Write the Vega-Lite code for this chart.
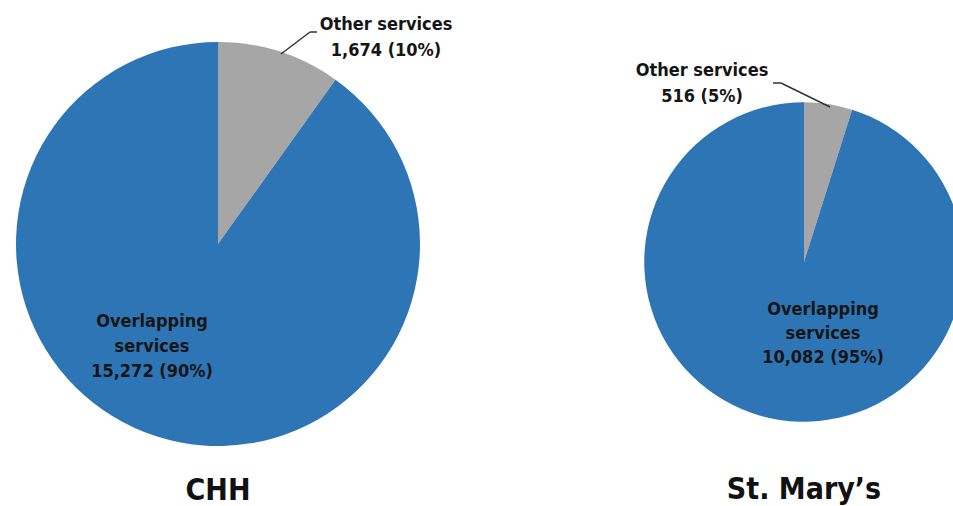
{
  "$schema": "https://vega.github.io/schema/vega-lite/v6.json",
  "width": 953,
  "height": 506,
  "autosize": {"type": "fit", "contains": "padding"},
  "padding": 0,
  "background": "white",
  "config": {"view": {"stroke": null}, "text": {"font": "Liberation Sans Narrow, Arial Narrow, DejaVu Sans Condensed, sans-serif"}},
  "data": {
    "values": [
      {"hospital": "CHH", "service": "Other services", "value": 1674, "label": "Other services\n1,674 (10%)"},
      {"hospital": "CHH", "service": "Overlapping services", "value": 15272, "label": "Overlapping\nservices\n15,272 (90%)"},
      {"hospital": "St. Mary’s", "service": "Other services", "value": 516, "label": "Other services\n516 (5%)"},
      {"hospital": "St. Mary’s", "service": "Overlapping services", "value": 10082, "label": "Overlapping\nservices\n10,082 (95%)"}
    ]
  },
  "transform": [
    {"joinaggregate": [{"op": "sum", "field": "value", "as": "total"}], "groupby": ["hospital"]},
    {"stack": "value", "groupby": ["hospital"], "offset": "normalize", "sort": [{"field": "service", "order": "ascending"}], "as": ["v0", "v1"]}
  ],
  "encoding": {
    "x": {"field": "hospital", "type": "nominal", "axis": null, "scale": {"type": "point", "domain": ["CHH", "St. Mary’s"], "range": [218, 804], "padding": 0}},
    "y": {"field": "hospital", "type": "nominal", "axis": null, "scale": {"type": "point", "domain": ["CHH", "St. Mary’s"], "range": [244, 262], "padding": 0}}
  },
  "layer": [
    {
      "mark": {"type": "arc", "stroke": null},
      "encoding": {
        "theta": {"field": "v0", "type": "quantitative", "scale": {"domain": [0, 1]}},
        "theta2": {"field": "v1"},
        "radius": {"field": "total", "type": "quantitative", "scale": {"type": "sqrt", "zero": true, "range": [0, 202]}, "legend": null},
        "color": {"field": "service", "type": "nominal", "legend": null, "scale": {"domain": ["Other services", "Overlapping services"], "range": ["#A6A6A6", "#2E75B6"]}}
      }
    },
    {
      "transform": [{"filter": "datum.hospital === 'CHH' && datum.service === 'Other services'"}],
      "mark": {"type": "rule", "color": "#333333", "strokeWidth": 1.5, "xOffset": 63, "yOffset": -190, "x2Offset": 92, "y2Offset": -212},
      "encoding": {"x2": {"field": "hospital"}, "y2": {"field": "hospital"}}
    },
    {
      "transform": [{"filter": "datum.hospital === 'CHH' && datum.service === 'Other services'"}],
      "mark": {"type": "rule", "color": "#333333", "strokeWidth": 1.5, "xOffset": 92, "yOffset": -212, "x2Offset": 99, "y2Offset": -212},
      "encoding": {"x2": {"field": "hospital"}, "y2": {"field": "hospital"}}
    },
    {
      "transform": [{"filter": "datum.hospital === 'St. Mary’s' && datum.service === 'Other services'"}],
      "mark": {"type": "rule", "color": "#333333", "strokeWidth": 1.5, "xOffset": -31, "yOffset": -179, "x2Offset": -23, "y2Offset": -179},
      "encoding": {"x2": {"field": "hospital"}, "y2": {"field": "hospital"}}
    },
    {
      "transform": [{"filter": "datum.hospital === 'St. Mary’s' && datum.service === 'Other services'"}],
      "mark": {"type": "rule", "color": "#333333", "strokeWidth": 1.5, "xOffset": -23, "yOffset": -179, "x2Offset": 26, "y2Offset": -155},
      "encoding": {"x2": {"field": "hospital"}, "y2": {"field": "hospital"}}
    },
    {
      "transform": [{"filter": "datum.hospital === 'CHH' && datum.service === 'Other services'"}],
      "mark": {"type": "text", "lineBreak": "\n", "fontWeight": "bold", "fontSize": 18, "lineHeight": 26, "color": "#151515", "align": "center", "baseline": "middle", "dx": 168, "dy": -219},
      "encoding": {"text": {"field": "label"}}
    },
    {
      "transform": [{"filter": "datum.hospital === 'CHH' && datum.service === 'Overlapping services'"}],
      "mark": {"type": "text", "lineBreak": "\n", "fontWeight": "bold", "fontSize": 18, "lineHeight": 25, "color": "#151515", "align": "center", "baseline": "middle", "dx": -66, "dy": 78},
      "encoding": {"text": {"field": "label"}}
    },
    {
      "transform": [{"filter": "datum.hospital === 'St. Mary’s' && datum.service === 'Other services'"}],
      "mark": {"type": "text", "lineBreak": "\n", "fontWeight": "bold", "fontSize": 18, "lineHeight": 26, "color": "#151515", "align": "center", "baseline": "middle", "dx": -102, "dy": -191},
      "encoding": {"text": {"field": "label"}}
    },
    {
      "transform": [{"filter": "datum.hospital === 'St. Mary’s' && datum.service === 'Overlapping services'"}],
      "mark": {"type": "text", "lineBreak": "\n", "fontWeight": "bold", "fontSize": 18, "lineHeight": 24, "color": "#151515", "align": "center", "baseline": "middle", "dx": 19, "dy": 48},
      "encoding": {"text": {"field": "label"}}
    },
    {
      "transform": [{"filter": "datum.hospital === 'CHH' && datum.service === 'Overlapping services'"}],
      "mark": {"type": "text", "fontWeight": "bold", "fontSize": 30, "color": "#111111", "align": "center", "baseline": "alphabetic", "dy": 256},
      "encoding": {"text": {"field": "hospital"}}
    },
    {
      "transform": [{"filter": "datum.hospital === 'St. Mary’s' && datum.service === 'Overlapping services'"}],
      "mark": {"type": "text", "fontWeight": "bold", "fontSize": 30, "color": "#111111", "align": "center", "baseline": "alphabetic", "dy": 237},
      "encoding": {"text": {"field": "hospital"}}
    }
  ]
}
